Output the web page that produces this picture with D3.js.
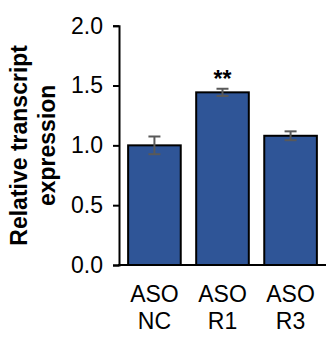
<!DOCTYPE html>
<meta charset="utf-8">
<style>
body{
  margin: 0;
  background: white;
}
svg text{
  font-family: Arial, "Liberation Sans", sans-serif;
}
</style>

<div id='chart'></div>

<script src="https://cdn.jsdelivr.net/npm/d3@7"></script>
<script>

// values
var groups = [['ASO', 'NC'], ['ASO', 'R1'], ['ASO', 'R3']]
var means  = [1.00, 1.443, 1.08]
var errs   = [0.074, 0.03, 0.037]
var marks  = ['', '**', '']
var yTicks = [0, 0.5, 1.0, 1.5, 2.0]

var width = 333,
    height = 343,
    plotLeft = 119, plotRight = 326,
    plotTop = 25.7, plotBottom = 265

var svg = d3.select('#chart')
  .append('svg')
    .attr('width', width)
    .attr('height', height)

var x = d3.scaleBand()
    .domain(d3.range(groups.length))
    .range([plotLeft, plotRight])
    .paddingInner(0.227)
    .paddingOuter(0.134)

var y = d3.scaleLinear()
    .domain([0, 2])
    .range([plotBottom, plotTop])

// bars
svg.selectAll('rect.bar')
    .data(means)
  .enter().append('rect')
    .attr('class', 'bar')
    .attr('x', function(d, i){ return x(i) })
    .attr('y', function(d){ return y(d) })
    .attr('width', x.bandwidth())
    .attr('height', function(d){ return y(0) - y(d) })
    .style('fill', '#2f5597')
    .style('stroke', '#000')
    .style('stroke-width', 2)

// error bars
var eb = svg.selectAll('g.err')
    .data(means)
  .enter().append('g')
    .attr('class', 'err')
    .style('stroke', '#595959')
    .style('stroke-width', 2)

eb.append('line')
    .attr('x1', function(d, i){ return x(i) + x.bandwidth()/2 })
    .attr('x2', function(d, i){ return x(i) + x.bandwidth()/2 })
    .attr('y1', function(d, i){ return y(d + errs[i]) })
    .attr('y2', function(d, i){ return y(d - errs[i]) })

;[1, -1].forEach(function(s){
  eb.append('line')
      .attr('x1', function(d, i){ return x(i) + x.bandwidth()/2 - 6 })
      .attr('x2', function(d, i){ return x(i) + x.bandwidth()/2 + 6 })
      .attr('y1', function(d, i){ return y(d + s*errs[i]) })
      .attr('y2', function(d, i){ return y(d + s*errs[i]) })
})

// significance marks
svg.selectAll('text.sig')
    .data(marks)
  .enter().append('text')
    .attr('class', 'sig')
    .attr('x', function(d, i){ return x(i) + x.bandwidth()/2 })
    .attr('y', function(d, i){ return y(means[i] + errs[i]) - 2 })
    .attr('text-anchor', 'middle')
    .style('font-size', '23px')
    .style('font-weight', 'bold')
    .text(function(d){ return d })

// y axis
var yAxis = svg.append('g')
    .attr('transform', 'translate(' + plotLeft + ',0)')
    .call(d3.axisLeft(y).tickValues(yTicks).tickFormat(d3.format('.1f'))
      .tickSizeInner(6).tickSizeOuter(6).tickPadding(10))

yAxis.select('.domain').style('stroke', '#000').style('stroke-width', 2)
yAxis.selectAll('.tick line').style('stroke', '#000').style('stroke-width', 2)
yAxis.selectAll('.tick text')
    .style('font-size', '23px')
    .style('fill', '#000')
    .attr('font-family', null)
yAxis.attr('font-family', null)

// x axis line
svg.append('line')
    .attr('x1', plotLeft - 1)
    .attr('x2', plotRight)
    .attr('y1', y(0))
    .attr('y2', y(0))
    .style('stroke', '#000')
    .style('stroke-width', 2)

// category labels
var cat = svg.selectAll('text.cat')
    .data(groups)
  .enter().append('text')
    .attr('class', 'cat')
    .attr('text-anchor', 'middle')
    .style('font-size', '23px')

cat.selectAll('tspan')
    .data(function(d, i){ return d.map(function(t){ return {t: t, i: i} }) })
  .enter().append('tspan')
    .attr('x', function(d){ return x(d.i) + x.bandwidth()/2 })
    .attr('y', function(d, j){ return 302 + j*27 })
    .text(function(d){ return d.t })

// y axis title
var title = svg.append('text')
    .attr('transform', 'translate(0,' + (plotTop + plotBottom)/2 + ') rotate(-90)')
    .attr('text-anchor', 'middle')
    .style('font-size', '23px')
    .style('font-weight', 'bold')

title.append('tspan').attr('x', 0).attr('y', 27).text('Relative transcript')
title.append('tspan').attr('x', 0).attr('y', 55).text('expression')

</script>
